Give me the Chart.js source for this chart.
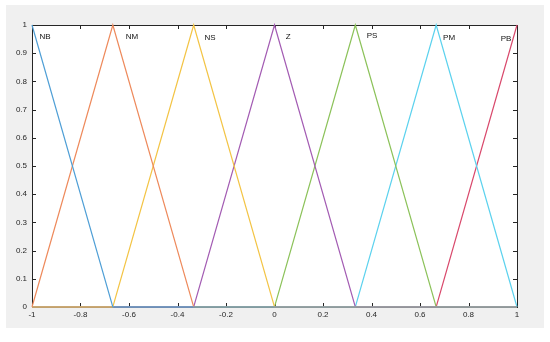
<!DOCTYPE html>
<html>
<head>
<meta charset="utf-8">
<script src="https://cdn.jsdelivr.net/npm/chart.js@4"></script>
<style>
  html, body { margin: 0; padding: 0; background: #fff; }
  canvas { display: block; }
</style>
</head>
<body>
<canvas id="mf" width="550" height="342"></canvas>
<script>
// ── Data ──────────────────────────────
const xPoints = [-1, -0.6667, -0.3333, 0, 0.3333, 0.6667, 1];
const mfNames = ['NB', 'NM', 'NS', 'Z', 'PS', 'PM', 'PB'];
const nbVals = [1, 0, 0, 0, 0, 0, 0];
const nmVals = [0, 1, 0, 0, 0, 0, 0];
const nsVals = [0, 0, 1, 0, 0, 0, 0];
const zVals  = [0, 0, 0, 1, 0, 0, 0];
const psVals = [0, 0, 0, 0, 1, 0, 0];
const pmVals = [0, 0, 0, 0, 0, 1, 0];
const pbVals = [0, 0, 0, 0, 0, 0, 1];
const seriesVals = [nbVals, nmVals, nsVals, zVals, psVals, pmVals, pbVals];
const mfColors = ['#4f9fd6', '#ee8a5c', '#f3c445', '#a35cb3', '#8cc25a', '#5cd2ee', '#d9496c'];
// label anchor points (data units)
const labelX = [-0.946, -0.588, -0.266, 0.056, 0.402, 0.720, 0.955];
const labelY = [0.957, 0.957, 0.953, 0.957, 0.962, 0.955, 0.952];

const FONT = '"Liberation Sans", Arial, sans-serif';
const INK = '#262626';

// ── Frame, inward ticks, MF labels ─────
const matlabAxes = {
    id: 'matlabAxes',
    beforeDraw(chart) {
        const { ctx, chartArea: a } = chart;
        ctx.save();
        ctx.fillStyle = '#fff';
        ctx.fillRect(0, 0, chart.width, chart.height);
        ctx.fillStyle = '#f0f0f0';
        ctx.fillRect(6, 5, 538, 323);
        ctx.fillStyle = '#fff';
        ctx.fillRect(a.left, a.top, a.right - a.left, a.bottom - a.top);
        ctx.restore();
    },
    beforeDatasetsDraw(chart) {
        const { ctx, chartArea: a, scales } = chart;
        const tl = 4;
        ctx.save();
        ctx.strokeStyle = INK;
        ctx.lineWidth = 1;
        ctx.beginPath();
        scales.x.ticks.forEach((t, i) => {
            const px = Math.round(scales.x.getPixelForTick(i)) + 0.5;
            ctx.moveTo(px, a.bottom); ctx.lineTo(px, a.bottom - tl);
            ctx.moveTo(px, a.top); ctx.lineTo(px, a.top + tl);
        });
        scales.y.ticks.forEach((t, i) => {
            const py = Math.round(scales.y.getPixelForTick(i)) + 0.5;
            ctx.moveTo(a.left, py); ctx.lineTo(a.left + tl, py);
            ctx.moveTo(a.right, py); ctx.lineTo(a.right - tl, py);
        });
        ctx.stroke();
        ctx.strokeRect(Math.round(a.left) + 0.5, Math.round(a.top) + 0.5,
            Math.round(a.right - a.left), Math.round(a.bottom - a.top));
        ctx.restore();
    },
    afterDraw(chart) {
        const { ctx, scales } = chart;
        ctx.save();
        ctx.fillStyle = '#111';
        ctx.font = '8px ' + FONT;
        ctx.textAlign = 'center';
        ctx.textBaseline = 'middle';
        mfNames.forEach((n, i) => {
            ctx.fillText(n, scales.x.getPixelForValue(labelX[i]), scales.y.getPixelForValue(labelY[i]));
        });
        ctx.restore();
    }
};

new Chart(document.getElementById('mf'), {
    type: 'line',
    data: {
        datasets: mfNames.map((n, i) => ({
            label: n,
            data: xPoints.map((x, j) => ({ x: x, y: seriesVals[i][j] })),
            borderColor: mfColors[i],
            borderWidth: 1.2,
            pointRadius: 0,
            tension: 0,
            fill: false,
            clip: false
        }))
    },
    options: {
        responsive: false,
        animation: false,
        layout: { padding: { left: 0, top: 25, right: 33, bottom: 0 } },
        plugins: { legend: { display: false }, tooltip: { enabled: false } },
        scales: {
            x: {
                type: 'linear', min: -1, max: 1,
                grid: { display: false, drawTicks: false },
                border: { display: false },
                ticks: {
                    stepSize: 0.2, padding: 3, maxRotation: 0,
                    color: INK, font: { family: FONT, size: 8 },
                    callback: v => String(Math.round(v * 10) / 10)
                },
                afterFit: s => { s.height = 35; }
            },
            y: {
                min: 0, max: 1,
                grid: { display: false, drawTicks: false },
                border: { display: false },
                ticks: {
                    stepSize: 0.1, padding: 5,
                    color: INK, font: { family: FONT, size: 8 },
                    callback: v => String(Math.round(v * 10) / 10)
                },
                afterFit: s => { s.width = 32; }
            }
        }
    },
    plugins: [matlabAxes]
});
</script>
</body>
</html>
